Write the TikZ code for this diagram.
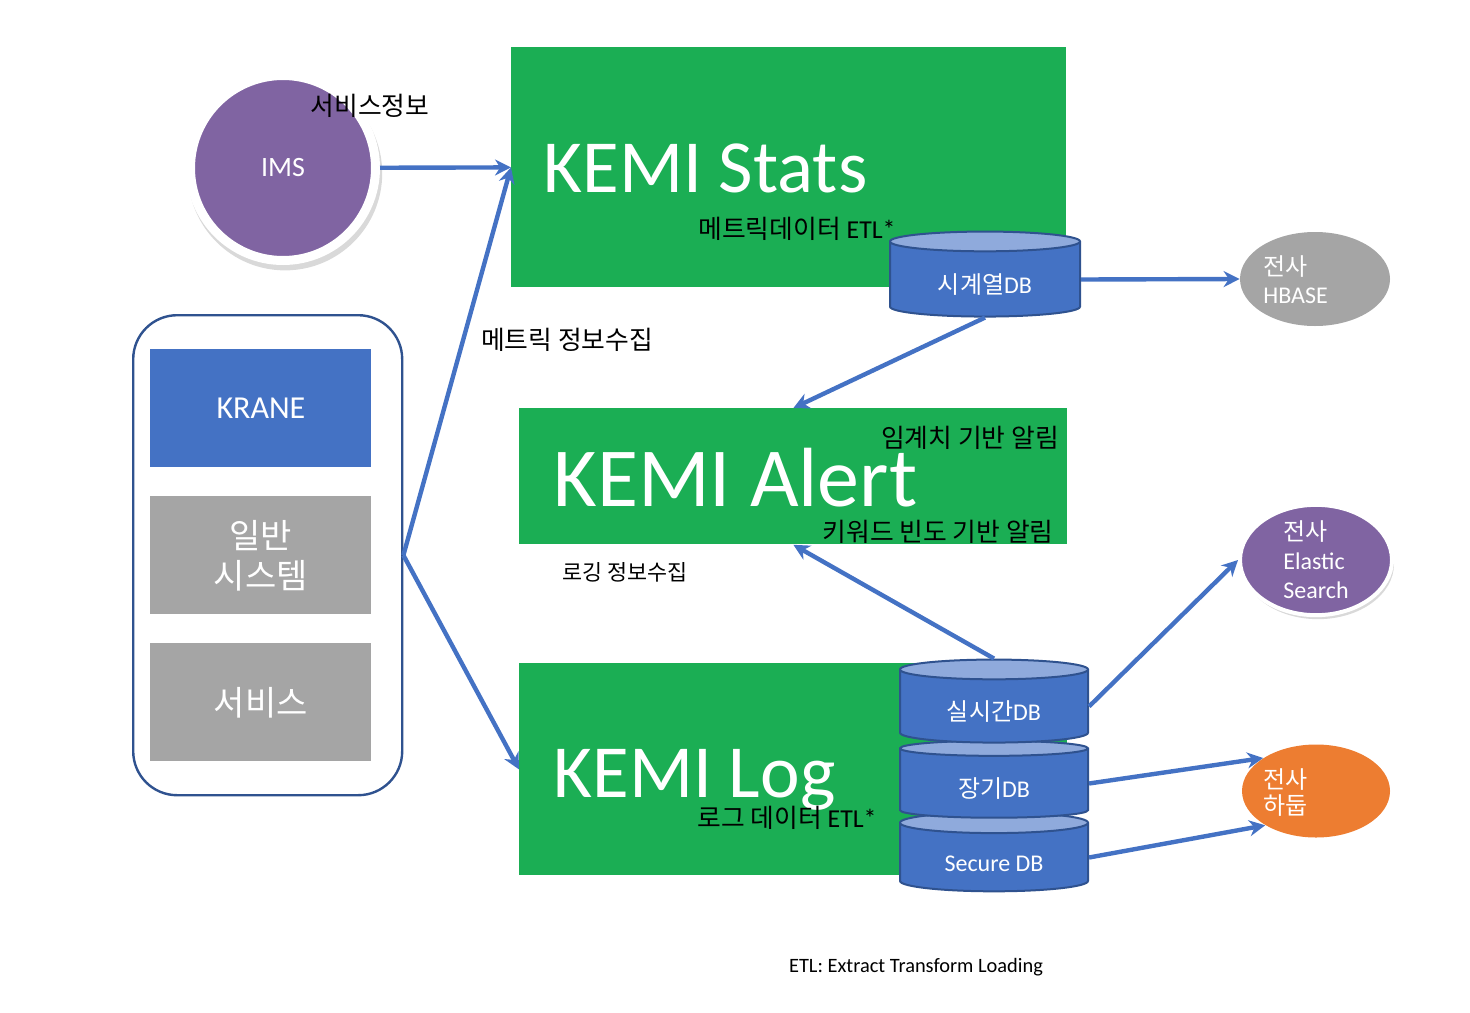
\documentclass[tikz,border=0pt]{standalone}
\usepackage{fontspec}
\setmainfont{Carlito}
\newfontfamily\kr{Noto Sans CJK KR}
\usetikzlibrary{arrows.meta,shapes.geometric,shadows}
\definecolor{kgreen}{RGB}{27,174,84}
\definecolor{kblue}{RGB}{68,114,196}
\definecolor{kdark}{RGB}{47,82,143}
\definecolor{klight}{RGB}{143,170,220}
\definecolor{kgray}{RGB}{165,165,165}
\definecolor{kpurple}{RGB}{128,100,162}
\definecolor{korange}{RGB}{237,125,49}

\begin{document}
\begin{tikzpicture}[x=0.5pt, y=-0.5pt,
  kemi/.style={fill=kgreen, anchor=north west, inner sep=0pt},
  title/.style={anchor=base west, text=white, inner sep=0pt, font=\fontsize{37.5}{37.5}\selectfont},
  sysbox/.style={anchor=north west, minimum width=110.5pt, minimum height=59pt, inner sep=0pt, text=white, align=center},
  db/.style={cylinder, shape border rotate=90, aspect=0.21, draw=kdark, line width=1pt, cylinder uses custom fill, cylinder body fill=kblue, cylinder end fill=klight, text=white, inner sep=0pt, text height=14pt, text depth=0pt, font=\fontsize{12}{12}\selectfont},
  corp/.style={ellipse, inner sep=0pt, text=white, align=left, font=\fontsize{12}{14.5}\selectfont},
  flow/.style={draw=kblue, line width=2.2pt, -{Stealth[length=8pt,width=8pt]}},
  note/.style={font=\kr\fontsize{12.9}{12.9}\selectfont},
]
\useasboundingbox (0,0) rectangle (1470,1012);

% KEMI blocks
\node[kemi, minimum width=277.5pt, minimum height=120pt] (stats) at (511,47) {};
\node[kemi, minimum width=274pt, minimum height=68pt] (alert) at (519,408) {};
\node[kemi, minimum width=274pt, minimum height=106pt] (log) at (519,663) {};
\node[title] (stats-t) at (543,192) {KEMI Stats};
\node[title, font=\fontsize{42}{42}\selectfont] (alert-t) at (553,506) {KEMI Alert};
\node[title] (log-t) at (553,797) {KEMI Log};

% sources
\node[circle, fill=kpurple, draw=white, line width=4.5pt, minimum size=92.5pt, inner sep=0pt,
  drop shadow={opacity=0.3, shadow scale=1.05, shadow xshift=1pt, shadow yshift=-2.5pt},
  text=white, font=\fontsize{14}{14}\selectfont] (ims) at (283,168) {IMS};
\node[rectangle, rounded corners=22pt, draw=kdark, line width=1.2pt, minimum width=134.5pt,
  minimum height=240pt, anchor=north west] (grp) at (132,314) {};
\node[sysbox, fill=kblue, font=\fontsize{16}{16}\selectfont] (krane) at (150,349) {KRANE};
\node[sysbox, fill=kgray, font=\kr\fontsize{17}{20}\selectfont] (gen) at (150,496) {일반\\시스템};
\node[sysbox, fill=kgray, font=\kr\fontsize{17}{20}\selectfont] (svc) at (150,643) {서비스};

% storages
\node[db, minimum width=95pt, minimum height=42.5pt] (ts) at (985,279.5) {{\kr 시계열}DB};
\node[db, minimum width=94pt, minimum height=39.5pt] (sec) at (994,857.5) {Secure DB};
\node[db, minimum width=94pt, minimum height=38.5pt] (lt) at (994,783.5) {{\kr 장기}DB};
\node[db, minimum width=94pt, minimum height=41.5pt] (rt) at (994,706.5) {{\kr 실시간}DB};

% targets
\node[corp, fill=kgray, minimum width=75pt, minimum height=47pt] (hbase) at (1315,279) {};
\node[anchor=west, text=white, align=left, inner sep=0pt, font=\fontsize{12}{14}\selectfont] (hbase-t) at (1263,280) {{\kr 전사}\\HBASE};
\node[corp, fill=kpurple, draw=white, line width=2pt, minimum width=76pt, minimum height=48pt,
  drop shadow={opacity=0.3, shadow xshift=1pt, shadow yshift=-2pt}] (es) at (1316,560) {{\kr 전사}\\Elastic\\Search};
\node[corp, fill=korange, minimum width=74pt, minimum height=46.5pt] (hd) at (1316,791) {};
\node[anchor=west, text=white, align=left, inner sep=0pt, font=\kr\fontsize{12}{13}\selectfont] (hd-t) at (1263,792) {전사\\하둡};

% labels
\node[note] (svc-info) at (370,106) {서비스정보};
\node[note] (stats-etl) at (797,229) {메트릭데이터 \fontspec{Carlito}ETL*};
\node[note] (metric-col) at (567,340) {메트릭 정보수집};
\node[note] (alert-th) at (970,438) {임계치 기반 알림};
\node[note] (alert-kw) at (938,532) {키워드 빈도 기반 알림};
\node[note, font=\kr\fontsize{10.9}{10.9}\selectfont] (log-col) at (625,572) {로깅 정보수집};
\node[note] (log-etl) at (787,818) {로그 데이터 \fontspec{Carlito}ETL*};
\node[font=\fontsize{10.2}{10.2}\selectfont] (etl) at (916,967) {ETL: Extract Transform Loading};

% connectors
\draw[flow] (ims) -- (stats.west);
\draw[flow] (grp.east) -- (stats.west);
\draw[flow] (grp.east) -- (log.west);
\draw[flow] (ts.south) -- (alert.north);
\draw[flow] (rt.north) -- (alert.south);
\draw[flow] (ts.east) -- (hbase.west);
\draw[flow] (rt.east) -- (es.west);
\draw[flow] (lt.east) -- (hd.148);
\draw[flow] (sec.east) -- (hd.214);
\end{tikzpicture}
\end{document}
